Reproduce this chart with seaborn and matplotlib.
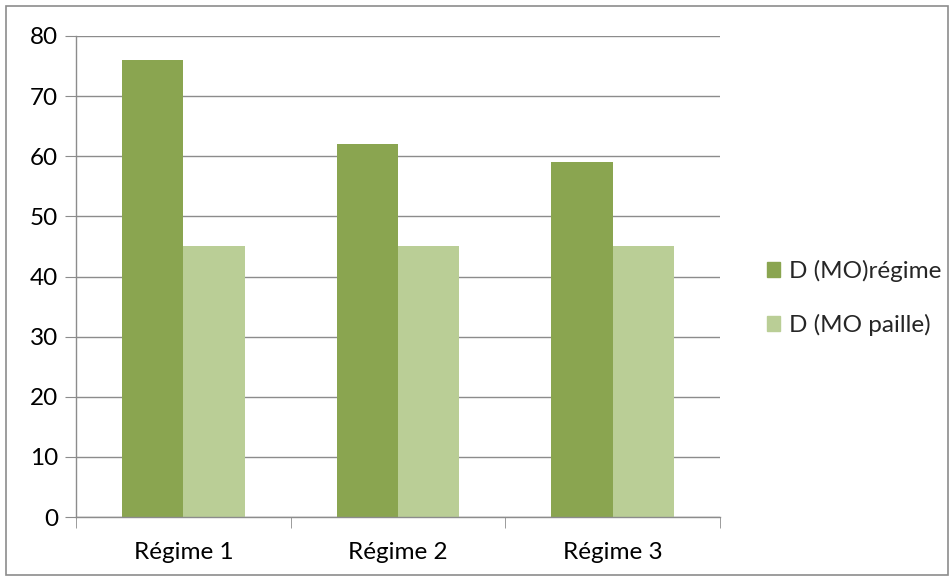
import pandas as pd
import matplotlib.pyplot as plt
import matplotlib.patches as mpatches
import seaborn as sns

categories = ["Régime 1", "Régime 2", "Régime 3"]
series = ["D (MO)régime", "D (MO paille)"]
mo_regime = [76, 62, 59]
mo_paille = [45, 45, 45]
colors = ["#8AA550", "#BACE96"]

df = pd.DataFrame({
    "regime": categories * 2,
    "serie": [series[0]] * 3 + [series[1]] * 3,
    "valeur": mo_regime + mo_paille,
})

sns.set_style("white")
plt.rcParams["font.family"] = ["Lato", "DejaVu Sans"]

fig = plt.figure(figsize=(9.53, 5.81), dpi=100)
ax = fig.add_axes([76 / 953, 64 / 581, 644 / 953, 481 / 581])

sns.barplot(data=df, x="regime", y="valeur", hue="serie", palette=colors,
            width=0.57, saturation=1, linewidth=0, legend=False, ax=ax)

ax.set_xlim(-0.5, 2.5)
ax.set_ylim(0, 80)
ax.set_yticks(range(0, 81, 10))
ax.yaxis.grid(True, color="#8c8c8c", linewidth=1)
ax.set_axisbelow(True)
ax.set_xlabel("")
ax.set_ylabel("")

for s in ["top", "right"]:
    ax.spines[s].set_visible(False)
for s in ["left", "bottom"]:
    ax.spines[s].set_color("#8c8c8c")
    ax.spines[s].set_linewidth(1)

fs = 17.5
ax.tick_params(axis="y", length=8, color="#8c8c8c", labelsize=fs, pad=5,
               left=True, labelcolor="black")
ax.tick_params(axis="x", which="major", length=0, labelsize=fs, pad=18,
               labelcolor="black")
ax.set_xticks([-0.5, 0.5, 1.5, 2.5], minor=True)
ax.tick_params(axis="x", which="minor", length=8, color="#8c8c8c", bottom=True)

handles = [mpatches.Patch(color=c, label=s) for c, s in zip(colors, series)]
fig.legend(handles=handles, loc="center left", bbox_to_anchor=(745 / 953, 1 - 298 / 581),
           frameon=False, fontsize=fs, handlelength=0.55, handleheight=0.55,
           handletextpad=0.35, labelspacing=1.3)

fig.patches.append(mpatches.Rectangle((6 / 953, 6 / 581), 942 / 953, 569 / 581,
                                      transform=fig.transFigure, fill=False,
                                      edgecolor="#8c8c8c", linewidth=1.2))

fig.savefig("out.png", dpi=100)
